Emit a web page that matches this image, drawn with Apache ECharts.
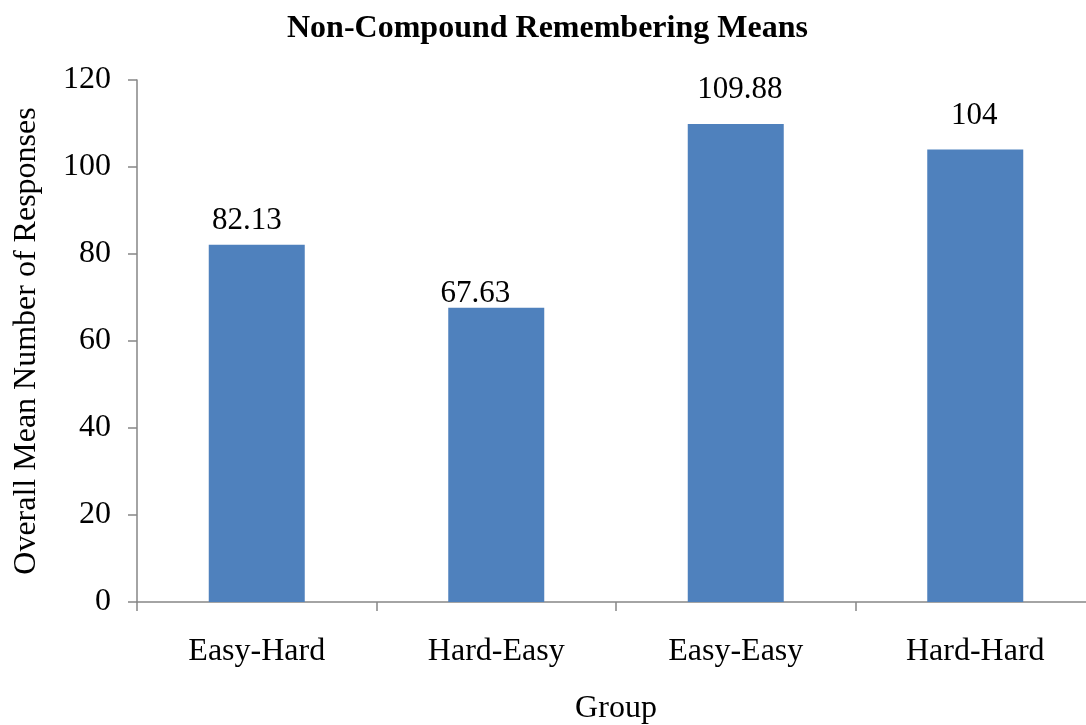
<!DOCTYPE html>
<html>
<head>
<meta charset="utf-8">
<title>Non-Compound Remembering Means</title>
<script src="https://cdn.jsdelivr.net/npm/echarts@6/dist/echarts.min.js"></script>
<style>
  html, body { margin: 0; padding: 0; background: #ffffff; }
  #chart { width: 1086px; height: 725px; }
</style>
</head>
<body>
<div id="chart"></div>
<script>
// Groups along the x axis and the mean number of responses for each
const categories = ['Easy-Hard', 'Hard-Easy', 'Easy-Easy', 'Hard-Hard'];
const meanResponses = [82.13, 67.63, 109.88, 104];
const valueLabels = ['82.13', '67.63', '109.88', '104'];
const yTicks = [0, 20, 40, 60, 80, 100, 120];

// Per-bar nudges for the value labels: [dx, distance above bar]
const labelNudges = [[-10, 8], [-21, -2], [4, 19], [-1, 18]];

const FONT = '"Liberation Serif", "Times New Roman", serif';
const AXIS_GREY = '#868686';

const chart = echarts.init(document.getElementById('chart'), null, { renderer: 'canvas' });

const seriesData = meanResponses.map((v, i) => ({
  value: v,
  label: {
    distance: labelNudges[i][1],
    offset: [labelNudges[i][0], 0],
    formatter: () => valueLabels[i]
  }
}));

chart.setOption({
  backgroundColor: '#ffffff',
  animation: false,
  title: {
    text: 'Non-Compound Remembering Means',
    left: 282,
    top: 8,
    textStyle: { fontFamily: FONT, fontSize: 32, fontWeight: 'bold', color: '#000000' }
  },
  // The plot runs slightly past the right edge of the canvas
  grid: { left: 137, top: 80, width: 958, height: 522, containLabel: false, outerBoundsMode: 'none' },
  xAxis: {
    type: 'category',
    data: categories,
    name: 'Group',
    nameLocation: 'middle',
    nameGap: 91,
    nameTextStyle: { fontFamily: FONT, fontSize: 32, color: '#000000' },
    axisLine: { lineStyle: { color: AXIS_GREY, width: 1.5 } },
    axisTick: { show: true, alignWithLabel: false, length: 9, lineStyle: { color: AXIS_GREY, width: 1.5 } },
    axisLabel: { fontFamily: FONT, fontSize: 32, color: '#000000', margin: 34 },
    splitLine: { show: false }
  },
  yAxis: {
    type: 'value',
    min: yTicks[0],
    max: yTicks[yTicks.length - 1],
    interval: yTicks[1] - yTicks[0],
    name: 'Overall Mean Number of Responses',
    nameLocation: 'middle',
    nameRotate: 90,
    nameGap: 94,
    nameTextStyle: { fontFamily: FONT, fontSize: 32, color: '#000000' },
    axisLine: { show: true, lineStyle: { color: AXIS_GREY, width: 1.5 } },
    axisTick: { show: true, length: 9, lineStyle: { color: AXIS_GREY, width: 1.5 } },
    axisLabel: { fontFamily: FONT, fontSize: 32, color: '#000000', margin: 26 },
    splitLine: { show: false }
  },
  series: [{
    type: 'bar',
    data: seriesData,
    barWidth: 96,
    itemStyle: { color: '#4F81BD' },
    label: {
      show: true,
      position: 'top',
      fontFamily: FONT,
      fontSize: 31,
      color: '#000000'
    }
  }]
});
</script>
</body>
</html>
